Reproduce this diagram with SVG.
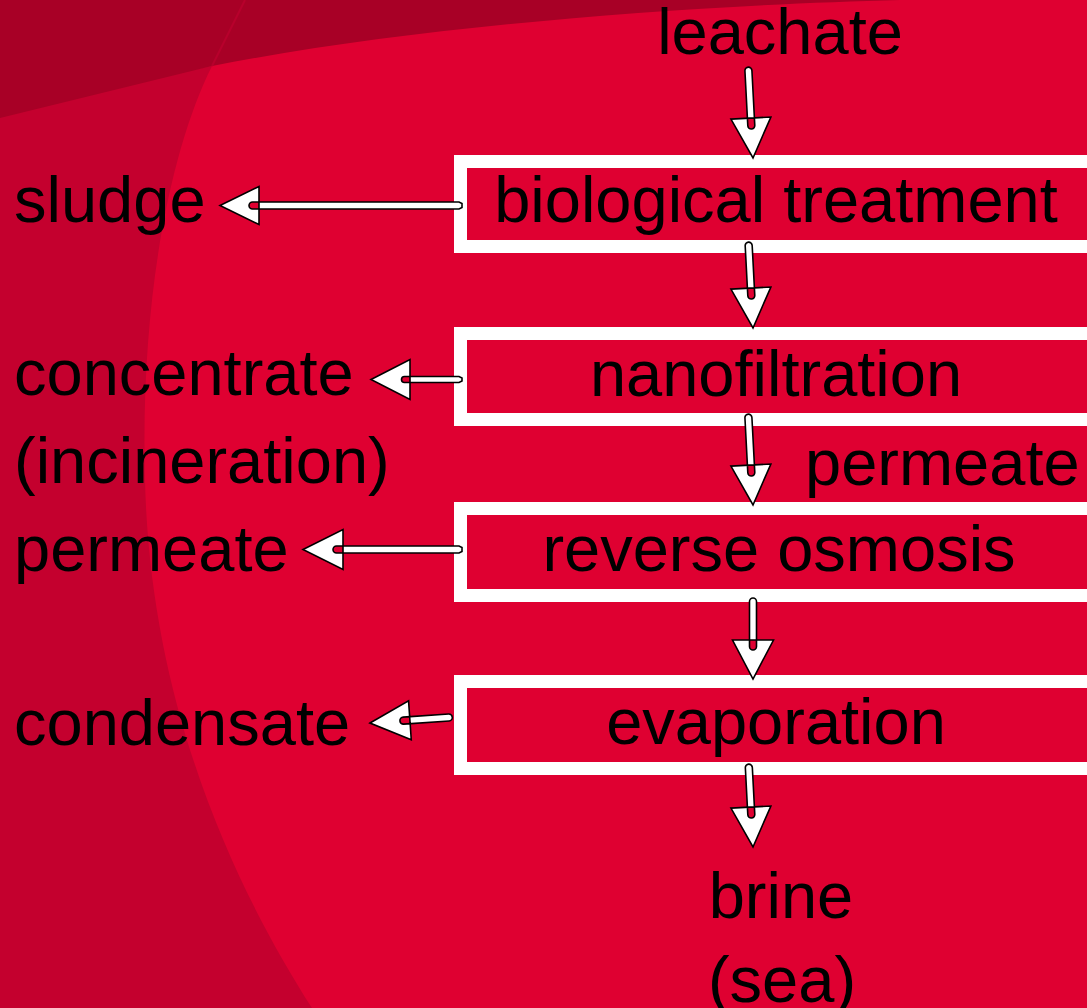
<svg xmlns="http://www.w3.org/2000/svg" width="1087" height="1008" viewBox="0 0 1087 1008">
<style>
.t{font-family:"Liberation Sans",Arial,sans-serif;font-size:65px;fill:#000}
.m{text-anchor:middle}
.box{fill:none;stroke:#fff;stroke-width:13}
.arr{fill:#fff;fill-rule:evenodd;stroke:#000;stroke-width:1.6;stroke-linejoin:miter}
</style>
<g id="background">
<rect x="0" y="0" width="1087" height="1008" fill="#DF0031"/>
<path d="M0,110 L212,66 C170,150 140,300 145,480 C150,700 230,880 312,1008 L0,1008 Z" fill="#C4002E"/>
<path d="M0,0 L900,0 C700,5 420,25 212,66 L0,118 Z" fill="#A80026"/>
<path d="M245,0 L212,66" stroke="#B8002C" stroke-width="2" fill="none"/>
</g>
<g id="node-biological"><rect class="box" x="460.5" y="161.5" width="700" height="85"/><text class="t m" x="776" y="222">biological treatment</text></g>
<g id="node-nanofiltration"><rect class="box" x="460.5" y="333.5" width="700" height="86"/><text class="t m" x="776" y="396">nanofiltration</text></g>
<g id="node-ro"><rect class="box" x="460.5" y="508.5" width="700" height="87"/><text class="t m" x="779" y="571">reverse osmosis</text></g>
<g id="node-evaporation"><rect class="box" x="460.5" y="681.5" width="700" height="87"/><text class="t m" x="776" y="744">evaporation</text></g>
<g id="node-leachate"><text class="t m" x="780" y="54">leachate</text></g>
<g id="node-brine"><text class="t m" x="781" y="918">brine</text><text class="t m" x="782" y="1002">(sea)</text></g>
<g id="node-sludge"><text class="t" x="14" y="222">sludge</text></g>
<g id="node-concentrate"><text class="t" x="14" y="395">concentrate</text><text class="t" x="14" y="483">(incineration)</text></g>
<g id="node-permeate-left"><text class="t" x="14" y="571">permeate</text></g>
<g id="node-condensate"><text class="t" x="14" y="745">condensate</text></g>
<g id="label-permeate"><text class="t" x="805" y="485">permeate</text></g>
<g id="connectors">
<path class="arr" transform="translate(753,158) rotate(-3)" d="M-20,-40 L20,-40 L0,0 Z M-3.5,-87.5 A3.5,3.5 0 0 1 3.5,-87.5 L3.5,-32.5 A3.5,3.5 0 0 1 -3.5,-32.5 Z"/>
<path class="arr" transform="translate(753,328) rotate(-3)" d="M-20,-40 L20,-40 L0,0 Z M-3.5,-82.5 A3.5,3.5 0 0 1 3.5,-82.5 L3.5,-32.5 A3.5,3.5 0 0 1 -3.5,-32.5 Z"/>
<path class="arr" transform="translate(753,505) rotate(-3)" d="M-20,-40 L20,-40 L0,0 Z M-3.5,-87.5 A3.5,3.5 0 0 1 3.5,-87.5 L3.5,-32.5 A3.5,3.5 0 0 1 -3.5,-32.5 Z"/>
<path class="arr" transform="translate(753,679)" d="M-20.5,-39 L20.5,-39 L0,0 Z M-3.5,-77.5 A3.5,3.5 0 0 1 3.5,-77.5 L3.5,-32.5 A3.5,3.5 0 0 1 -3.5,-32.5 Z"/>
<path class="arr" transform="translate(753,847) rotate(-3)" d="M-20,-40 L20,-40 L0,0 Z M-3.5,-79.5 A3.5,3.5 0 0 1 3.5,-79.5 L3.5,-32.5 A3.5,3.5 0 0 1 -3.5,-32.5 Z"/>
<path class="arr" transform="translate(220,205.5)" d="M0,0 L39,-19 L39,19 Z M32.5,-3.5 L239,-3.5 L242,-2 L242,2 L239,3.5 L32.5,3.5 A3.5,3.5 0 0 1 32.5,-3.5 Z"/>
<path class="arr" transform="translate(371,379.5)" d="M0,0 L39,-20 L39,20 Z M33.5,-3 L88,-3 L91,-1.5 L91,1.5 L88,3 L33.5,3 A3,3 0 0 1 33.5,-3 Z"/>
<path class="arr" transform="translate(303,549.5)" d="M0,0 L40,-20 L40,20 Z M33.5,-3.5 L156,-3.5 L159,-2 L159,2 L156,3.5 L33.5,3.5 A3.5,3.5 0 0 1 33.5,-3.5 Z"/>
<path class="arr" transform="translate(370,723) rotate(-4)" d="M0,0 L40,-19.5 L40,19.5 Z M33.5,-3.5 L79,-3.5 A3.5,3.5 0 0 1 79,3.5 L33.5,3.5 A3.5,3.5 0 0 1 33.5,-3.5 Z"/>
</g>
</svg>
